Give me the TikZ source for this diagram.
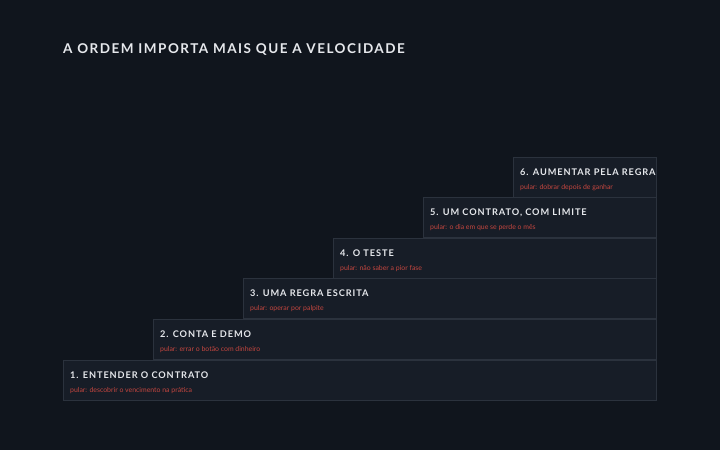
\documentclass[tikz,border=0pt]{standalone}
\usepackage{fontspec}
\setmainfont{Lato}
\newfontfamily\capsfont[LetterSpace=10]{Lato Bold}
\newfontfamily\headfont[LetterSpace=11]{Lato Bold}
\usetikzlibrary{positioning}
\definecolor{bgdark}{HTML}{10151D}
\definecolor{stepfill}{HTML}{171D27}
\definecolor{stepline}{HTML}{2B323D}
\definecolor{skipred}{HTML}{C4463F}
\definecolor{capwhite}{HTML}{E6E8EC}
\tikzset{
	stair/.style={draw=stepline, fill=stepfill, line width=.8pt},
	steptitle/.style={anchor=base west, inner sep=0, text=capwhite, font=\capsfont\fontsize{9.2}{10}\selectfont},
	stepskip/.style={anchor=base west, inner sep=0, text=skipred, font=\fontsize{6.9}{7}\selectfont}
}
\begin{document}
\begin{tikzpicture}[x=1pt, y=-1pt]
	\fill[bgdark] (0, 0) rectangle (720, 450);
	\useasboundingbox (0, 0) rectangle (720, 450);

	\node[anchor=base west, inner sep=0, text=capwhite,
		font=\headfont\fontsize{13.5}{14}\selectfont] (title) at (63, 53)
		{A ORDEM IMPORTA MAIS QUE A VELOCIDADE};

	\foreach \i/\t/\s in {1/ENTENDER O CONTRATO/descobrir o vencimento na prática,
			2/CONTA E DEMO/errar o botão com dinheiro,
			3/UMA REGRA ESCRITA/operar por palpite,
			4/O TESTE/não saber a pior fase,
			5/{UM CONTRATO, COM LIMITE}/o dia em que se perde o mês,
			6/AUMENTAR PELA REGRA/dobrar depois de ganhar} {
		\pgfmathsetmacro\lx{63 + (\i - 1) * 90}
		\pgfmathsetmacro\ty{360 - (\i - 1) * 40.6}
		\draw[stair] (\lx, \ty) rectangle (656, \ty + 40);
		\node[steptitle] (s\i) at (\lx + 7, \ty + 18) {\i. \t};
		\node[stepskip] (k\i) at (\lx + 7, \ty + 32) {pular: \s};
	}
\end{tikzpicture}
\end{document}
